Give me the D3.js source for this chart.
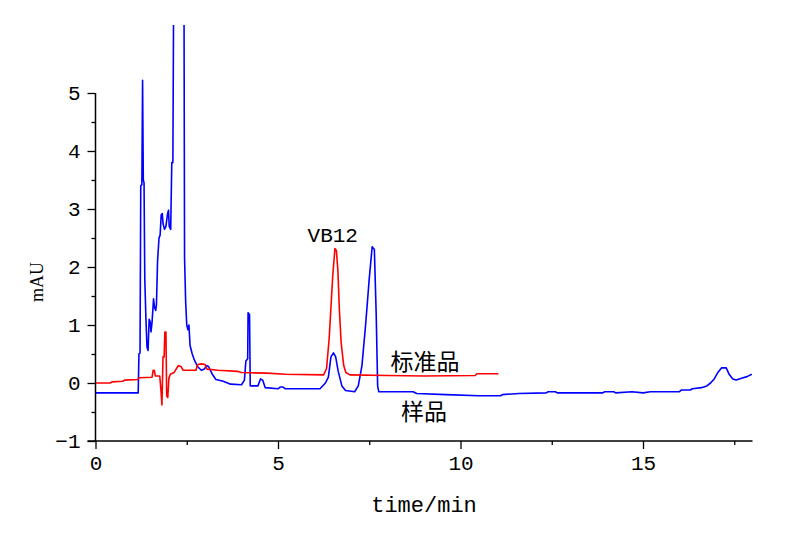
<!DOCTYPE html>
<html>
<head>
<meta charset="utf-8">
<script src="https://cdn.jsdelivr.net/npm/d3@7"></script>
<style>
  html, body { margin: 0; padding: 0; background: #fff; }
  svg { display: block; }
</style>
</head>
<body>
<svg id="chart" width="800" height="533"></svg>
<script>
// ---- data ----
const xTicks = [0, 5, 10, 15];
const xMinorTicks = [2.5, 7.5, 12.5, 17.5];
const yTicks = [-1, 0, 1, 2, 3, 4, 5];
const yMinorTicks = [-0.5, 0.5, 1.5, 2.5, 3.5, 4.5];

const sampleTime = [0, 0.5, 1.17, 1.19, 1.22, 1.24, 1.27, 1.29, 1.31, 1.33, 1.35, 1.38, 1.41, 1.44, 1.47, 1.5, 1.52, 1.55, 1.59, 1.62, 1.65, 1.67, 1.7, 1.74, 1.77, 1.8, 1.83, 1.85, 1.89, 1.93, 1.97, 2.0, 2.02, 2.06, 2.09, 2.12, 2.15, 2.42, 2.44, 2.47, 2.5, 2.53, 2.56, 2.59, 2.65, 2.72, 2.8, 2.9, 2.98, 3.05, 3.1, 3.2, 3.3, 3.5, 3.7, 4.0, 4.08, 4.12, 4.17, 4.18, 4.22, 4.24, 4.45, 4.52, 4.58, 4.65, 5.0, 5.06, 5.14, 5.2, 6.15, 6.3, 6.38, 6.45, 6.52, 6.58, 6.65, 6.75, 6.85, 7.1, 7.2, 7.3, 7.4, 7.5, 7.58, 7.64, 7.69, 7.73, 7.76, 8.7, 8.8, 9.6, 10.5, 11.1, 11.15, 11.6, 12.35, 12.4, 12.6, 12.65, 13.9, 13.95, 14.2, 14.25, 14.7, 15.0, 15.2, 16.0, 16.05, 16.3, 16.35, 16.6, 16.75, 16.85, 16.95, 17.05, 17.15, 17.28, 17.36, 17.46, 17.55, 17.7, 17.85, 17.98];
const sampleAbs = [-0.17, -0.17, -0.17, 0.5, 0.52, 3.4, 3.42, 5.22, 3.5, 3.45, 1.8, 1.14, 0.62, 0.56, 1.1, 1.05, 0.88, 1.05, 1.45, 1.3, 1.25, 1.35, 2.1, 2.5, 2.55, 2.9, 2.92, 2.75, 2.65, 2.7, 2.9, 2.98, 2.7, 2.65, 3.8, 3.8, 8, 8, 2.15, 1.4, 1.0, 0.92, 1.0, 0.65, 0.5, 0.38, 0.28, 0.22, 0.24, 0.3, 0.28, 0.15, 0.06, 0.03, -0.02, -0.03, 0.05, 0.38, 0.42, 1.21, 1.18, -0.05, -0.05, 0.07, 0.05, -0.08, -0.1, -0.07, -0.07, -0.1, -0.1, 0.0, 0.1, 0.45, 0.52, 0.45, 0.2, -0.05, -0.13, -0.15, -0.05, 0.3, 1.0, 1.8, 2.35, 2.3, 1.2, -0.05, -0.15, -0.15, -0.18, -0.2, -0.22, -0.22, -0.2, -0.18, -0.17, -0.15, -0.15, -0.17, -0.17, -0.15, -0.15, -0.17, -0.15, -0.17, -0.15, -0.15, -0.12, -0.12, -0.1, -0.08, -0.05, 0.0, 0.07, 0.18, 0.26, 0.26, 0.15, 0.07, 0.05, 0.08, 0.11, 0.15];

const standardTime = [0, 0.4, 0.45, 0.75, 0.8, 1.15, 1.2, 1.55, 1.58, 1.61, 1.64, 1.76, 1.79, 1.82, 1.85, 1.88, 1.9, 1.93, 1.95, 1.98, 2.01, 2.05, 2.15, 2.22, 2.27, 2.35, 2.4, 2.75, 2.8, 2.9, 3.0, 3.05, 3.35, 3.9, 4.0, 4.7, 5.2, 6.25, 6.33, 6.4, 6.45, 6.5, 6.56, 6.6, 6.64, 6.68, 6.73, 6.8, 6.86, 6.97, 8.0, 9.0, 10.4, 10.45, 11.04];
const standardAbs = [0.0, 0.0, 0.02, 0.03, 0.05, 0.06, 0.09, 0.1, 0.22, 0.22, 0.12, 0.12, -0.1, -0.38, 0.45, 0.45, 0.88, 0.88, -0.22, -0.25, 0.08, 0.15, 0.18, 0.25, 0.3, 0.28, 0.22, 0.22, 0.32, 0.33, 0.32, 0.24, 0.22, 0.2, 0.18, 0.17, 0.15, 0.14, 0.25, 0.75, 1.3, 1.85, 2.32, 2.28, 1.95, 1.28, 0.7, 0.3, 0.18, 0.14, 0.13, 0.12, 0.13, 0.16, 0.16];

const xLabel = "time/min";
const yLabel = "mAU";
const peakLabel = "VB12";
const standardLabel = "标准品";
const sampleLabel = "样品";

// ---- drawing ----
const svg = d3.select("#chart");
svg.append("rect").attr("width", 800).attr("height", 533).attr("fill", "#fff");

const x = d3.scaleLinear().domain([0, 18]).range([95.5, 752.5]);
const y = d3.scaleLinear().domain([-1, 5]).range([441, 93]);

const monoFont = "'Liberation Mono', 'DejaVu Sans Mono', monospace";
const cjkFont = "'Noto Sans CJK SC', sans-serif";
const fs = 21;

// clip region for traces
svg.append("defs").append("clipPath").attr("id", "plotClip")
  .append("rect").attr("x", x(0)).attr("y", 25)
  .attr("width", x(18) - x(0) + 5).attr("height", y(-1) - 25);

// x axis
const gx = svg.append("g").attr("transform", `translate(0,${y(-1)})`);
const gxMajor = gx.append("g")
  .call(d3.axisBottom(x).tickValues(xTicks).tickSize(8).tickPadding(6).tickFormat(d3.format("d")))
  .call(g => g.select(".domain").remove());
gx.append("g").call(d3.axisBottom(x).tickValues(xMinorTicks).tickSize(4).tickFormat(""))
  .call(g => g.select(".domain").remove());
gx.append("line").attr("x1", x(0) - 8).attr("x2", x(18)).attr("y1", 0).attr("y2", 0)
  .attr("stroke", "#000").attr("stroke-width", 1.5);

// y axis
const gy = svg.append("g").attr("transform", `translate(${x(0)},0)`);
const gyMajor = gy.append("g")
  .call(d3.axisLeft(y).tickValues(yTicks).tickSize(8).tickPadding(7).tickFormat(d => d < 0 ? "\u2212" + Math.abs(d) : String(d)))
  .call(g => g.select(".domain").remove());
gy.append("g").call(d3.axisLeft(y).tickValues(yMinorTicks).tickSize(4).tickFormat(""))
  .call(g => g.select(".domain").remove());
gy.append("line").attr("x1", 0).attr("x2", 0).attr("y1", y(5)).attr("y2", y(-1))
  .attr("stroke", "#000").attr("stroke-width", 1.5);

svg.selectAll(".tick line").attr("stroke", "#000").attr("stroke-width", 1.3);
svg.selectAll(".tick text").attr("font-family", monoFont).attr("font-size", fs).attr("fill", "#000");

// axis titles
svg.append("text").attr("x", 424).attr("y", 512).attr("text-anchor", "middle")
  .attr("font-family", monoFont).attr("font-size", 22).attr("fill", "#000").text(xLabel);
svg.append("text").attr("transform", `translate(43,282) rotate(-90)`).attr("text-anchor", "middle")
  .attr("font-family", "'Liberation Serif', serif").attr("font-size", 18).attr("fill", "#000").text(yLabel);

// traces
const line = d3.line().x(d => x(d[0])).y(d => y(d[1]));
const sample = sampleTime.map((t, i) => [t, sampleAbs[i]]);
const standard = standardTime.map((t, i) => [t, standardAbs[i]]);

const plot = svg.append("g").attr("clip-path", "url(#plotClip)");
plot.append("path").datum(sample).attr("d", line)
  .attr("fill", "none").attr("stroke", "#0000ff").attr("stroke-width", 1.6).attr("stroke-linejoin", "round");
plot.append("path").datum(standard).attr("d", line)
  .attr("fill", "none").attr("stroke", "#ff0000").attr("stroke-width", 1.6).attr("stroke-linejoin", "round");

// annotations
svg.append("text").attr("x", x(6.5)).attr("y", 242).attr("text-anchor", "middle")
  .attr("font-family", monoFont).attr("font-size", fs).attr("fill", "#000").text(peakLabel);
svg.append("text").attr("x", 425).attr("y", 370).attr("text-anchor", "middle")
  .attr("font-family", cjkFont).attr("font-size", 23).attr("fill", "#000").text(standardLabel);
svg.append("text").attr("x", 424).attr("y", 420).attr("text-anchor", "middle")
  .attr("font-family", cjkFont).attr("font-size", 23).attr("fill", "#000").text(sampleLabel);
</script>
</body>
</html>
